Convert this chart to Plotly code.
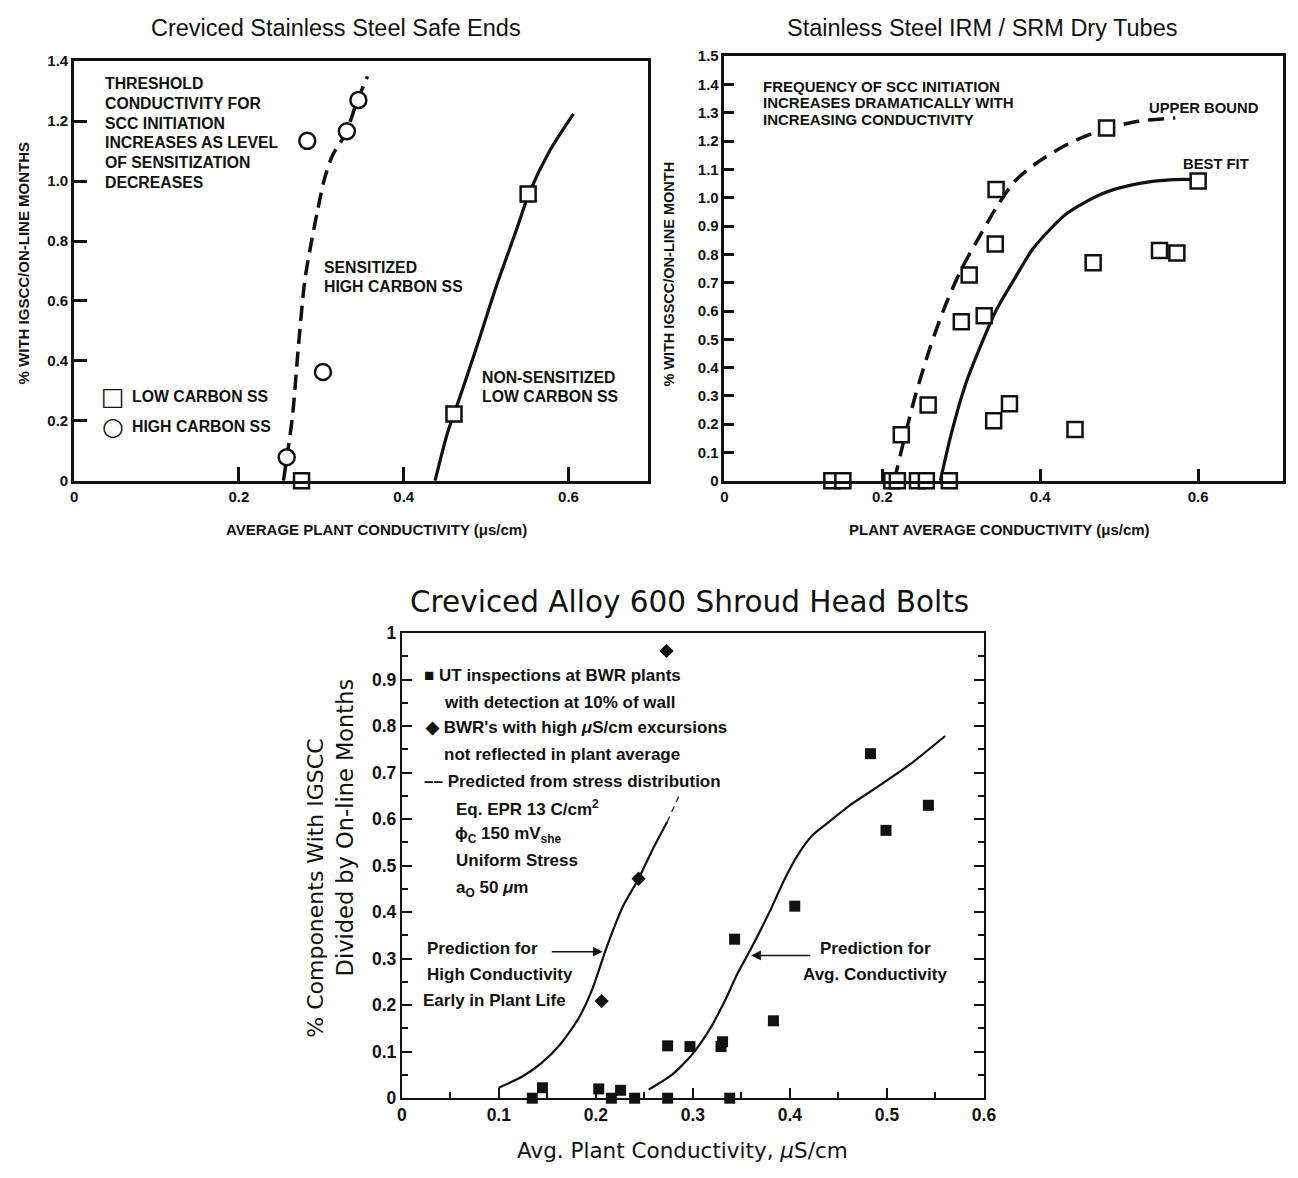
import plotly.graph_objects as go

W, H = 1298, 1178

# ---------------- data ----------------
# Panel A: Creviced Stainless Steel Safe Ends
a_low_carbon_x = [0.276, 0.461, 0.551]
a_low_carbon_y = [0.0, 0.223, 0.957]
a_high_carbon_x = [0.258, 0.283, 0.302, 0.331, 0.345]
a_high_carbon_y = [0.079, 1.134, 0.363, 1.166, 1.270]
a_sensitized_x = [0.254, 0.265, 0.272, 0.280, 0.287, 0.295, 0.304, 0.314, 0.329, 0.344, 0.356]
a_sensitized_y = [0.0, 0.215, 0.442, 0.669, 0.782, 0.896, 1.009, 1.088, 1.156, 1.270, 1.349]
a_nonsens_x = [0.438, 0.453, 0.463, 0.488, 0.512, 0.537, 0.552, 0.577, 0.606]
a_nonsens_y = [0.0, 0.159, 0.238, 0.442, 0.646, 0.839, 0.958, 1.100, 1.224]
a_xticks = [0, 0.2, 0.4, 0.6]
a_xticktext = ["0", "0.2", "0.4", "0.6"]
a_yticks = [0, 0.2, 0.4, 0.6, 0.8, 1.0, 1.2, 1.4]
a_yticktext = ["0", "0.2", "0.4", "0.6", "0.8", "1.0", "1.2", "1.4"]

# Panel B: Stainless Steel IRM / SRM Dry Tubes
b_x = [0.136, 0.150, 0.212, 0.219, 0.2445, 0.2557, 0.2848, 0.224, 0.258, 0.300, 0.310,
       0.329, 0.344, 0.343, 0.341, 0.361, 0.444, 0.467, 0.484, 0.551, 0.573, 0.600]
b_y = [0.0, 0.0, 0.0, 0.0, 0.0, 0.0, 0.0, 0.163, 0.268, 0.562, 0.727,
       0.583, 1.029, 0.837, 0.212, 0.272, 0.181, 0.770, 1.246, 0.814, 0.805, 1.059]
b_upper_x = [0.215, 0.229, 0.242, 0.260, 0.278, 0.300, 0.323, 0.345, 0.367, 0.394, 0.435, 0.479, 0.524, 0.571]
b_upper_y = [0.0, 0.163, 0.303, 0.467, 0.607, 0.747, 0.863, 0.968, 1.056, 1.120, 1.190, 1.240, 1.270, 1.282]
b_best_x = [0.2735, 0.287, 0.305, 0.323, 0.345, 0.367, 0.390, 0.412, 0.434, 0.479, 0.524, 0.569, 0.600]
b_best_y = [0.0, 0.163, 0.338, 0.467, 0.607, 0.712, 0.817, 0.887, 0.945, 1.015, 1.050, 1.064, 1.064]
b_xticks = [0, 0.2, 0.4, 0.6]
b_xticktext = ["0", "0.2", "0.4", "0.6"]
b_yticks = [0, 0.1, 0.2, 0.3, 0.4, 0.5, 0.6, 0.7, 0.8, 0.9, 1.0, 1.1, 1.2, 1.3, 1.4, 1.5]
b_yticktext = ["0", "0.1", "0.2", "0.3", "0.4", "0.5", "0.6", "0.7", "0.8", "0.9",
               "1.0", "1.1", "1.2", "1.3", "1.4", "1.5"]

# Panel C: Creviced Alloy 600 Shroud Head Bolts
c_ut_x = [0.1345, 0.145, 0.203, 0.216, 0.2255, 0.240, 0.274, 0.274, 0.297, 0.329, 0.3306,
          0.338, 0.343, 0.383, 0.405, 0.483, 0.499, 0.5427]
c_ut_y = [0.0, 0.0225, 0.020, 0.0, 0.017, 0.0, 0.1126, 0.0, 0.111, 0.111, 0.1215,
          0.0, 0.342, 0.1665, 0.413, 0.741, 0.576, 0.630]
c_bwr_x = [0.2728, 0.244, 0.206]
c_bwr_y = [0.962, 0.472, 0.209]
c_high_x = [0.100, 0.1243, 0.1436, 0.163, 0.182, 0.1966, 0.211, 0.228, 0.244, 0.259, 0.2735]
c_high_y = [0.0225, 0.0467, 0.0748, 0.115, 0.171, 0.2357, 0.324, 0.413, 0.472, 0.537, 0.594]
c_stress_x = [0.2735, 0.2867]
c_stress_y = [0.594, 0.655]
c_avg_x = [0.2545, 0.2786, 0.298, 0.317, 0.3316, 0.346, 0.3605, 0.380, 0.394, 0.4087,
           0.423, 0.4376, 0.4617, 0.4906, 0.524, 0.560]
c_avg_y = [0.0185, 0.0507, 0.091, 0.147, 0.2035, 0.268, 0.324, 0.405, 0.469, 0.525,
           0.565, 0.590, 0.630, 0.670, 0.7184, 0.779]
c_xticks = [0, 0.1, 0.2, 0.3, 0.4, 0.5, 0.6]
c_xticktext = ["0", "0.1", "0.2", "0.3", "0.4", "0.5", "0.6"]
c_yticks = [0, 0.1, 0.2, 0.3, 0.4, 0.5, 0.6, 0.7, 0.8, 0.9, 1.0]
c_yticktext = ["0", "0.1", "0.2", "0.3", "0.4", "0.5", "0.6", "0.7", "0.8", "0.9", "1"]

# ---------------- figure ----------------
SANS = "Liberation Sans, Arial, sans-serif"
DJ = "DejaVu Sans, sans-serif"
BLACK = "#111111"

fig = go.Figure()

# Panel A traces
fig.add_trace(go.Scatter(x=a_sensitized_x, y=a_sensitized_y, xaxis="x", yaxis="y", mode="lines",
                         line=dict(color=BLACK, width=3.5, dash="15px,8px", shape="spline", smoothing=0.8),
                         cliponaxis=False, showlegend=False))
fig.add_trace(go.Scatter(x=a_nonsens_x, y=a_nonsens_y, xaxis="x", yaxis="y", mode="lines",
                         line=dict(color=BLACK, width=3.2, shape="spline", smoothing=0.8),
                         cliponaxis=False, showlegend=False))
fig.add_trace(go.Scatter(x=a_low_carbon_x, y=a_low_carbon_y, xaxis="x", yaxis="y", mode="markers",
                         marker=dict(symbol="square", size=15, color="white", line=dict(color=BLACK, width=2.5)),
                         cliponaxis=False, showlegend=False))
fig.add_trace(go.Scatter(x=a_high_carbon_x, y=a_high_carbon_y, xaxis="x", yaxis="y", mode="markers",
                         marker=dict(symbol="circle", size=16, color="white", line=dict(color=BLACK, width=2.5)),
                         cliponaxis=False, showlegend=False))

# Panel B traces
fig.add_trace(go.Scatter(x=b_upper_x, y=b_upper_y, xaxis="x2", yaxis="y2", mode="lines",
                         line=dict(color=BLACK, width=3.5, dash="16px,9px", shape="spline", smoothing=0.8),
                         cliponaxis=False, showlegend=False))
fig.add_trace(go.Scatter(x=b_best_x, y=b_best_y, xaxis="x2", yaxis="y2", mode="lines",
                         line=dict(color=BLACK, width=3.2, shape="spline", smoothing=0.8),
                         cliponaxis=False, showlegend=False))
fig.add_trace(go.Scatter(x=b_x, y=b_y, xaxis="x2", yaxis="y2", mode="markers",
                         marker=dict(symbol="square", size=15, color="white", line=dict(color=BLACK, width=2.5)),
                         cliponaxis=False, showlegend=False))

# Panel C traces
fig.add_trace(go.Scatter(x=c_high_x, y=c_high_y, xaxis="x3", yaxis="y3", mode="lines",
                         line=dict(color=BLACK, width=2.2, shape="spline", smoothing=0.6),
                         cliponaxis=False, showlegend=False))
fig.add_trace(go.Scatter(x=c_stress_x, y=c_stress_y, xaxis="x3", yaxis="y3", mode="lines",
                         line=dict(color=BLACK, width=1.2, dash="6px,5px"),
                         cliponaxis=False, showlegend=False))
fig.add_trace(go.Scatter(x=c_avg_x, y=c_avg_y, xaxis="x3", yaxis="y3", mode="lines",
                         line=dict(color=BLACK, width=2.2, shape="spline", smoothing=0.6),
                         cliponaxis=False, showlegend=False))
fig.add_trace(go.Scatter(x=c_ut_x, y=c_ut_y, xaxis="x3", yaxis="y3", mode="markers",
                         marker=dict(symbol="square", size=11, color=BLACK, line=dict(width=0)),
                         cliponaxis=False, showlegend=False))
fig.add_trace(go.Scatter(x=c_bwr_x, y=c_bwr_y, xaxis="x3", yaxis="y3", mode="markers",
                         marker=dict(symbol="diamond", size=11, color=BLACK, line=dict(width=0)),
                         cliponaxis=False, showlegend=False))


def dom_x(x0, x1):
    return [x0 / W, x1 / W]


def dom_y(ytop, ybot):
    return [1 - ybot / H, 1 - ytop / H]


def axis(domain, rng, anchor, tickvals, ticktext, lw, tlen, tfont, mirror=True, minor=None):
    d = dict(domain=domain, range=rng, anchor=anchor, showline=True, linecolor=BLACK, linewidth=lw,
             mirror=mirror, ticks="inside", ticklen=tlen, tickwidth=lw, tickcolor=BLACK,
             tickmode="array", tickvals=tickvals, ticktext=ticktext, tickfont=tfont,
             showgrid=False, zeroline=False, fixedrange=True)
    if minor:
        d["minor"] = minor
    return d


top_tick_font = dict(family=SANS, size=15, color=BLACK, weight=700)
bot_tick_font = dict(family=SANS, size=17.5, color=BLACK, weight=700)

layout = dict(
    width=W, height=H, autosize=False,
    margin=dict(l=0, r=0, t=0, b=0),
    paper_bgcolor="white", plot_bgcolor="white",
    showlegend=False,
    xaxis=axis(dom_x(70, 652), [0, 0.697], "y", a_xticks, a_xticktext, 2.8, 14, top_tick_font),
    yaxis=axis(dom_y(52, 479), [0, 1.4], "x", a_yticks, a_yticktext, 2.8, 13, top_tick_font),
    xaxis2=axis(dom_x(729, 1295), [0, 0.7075], "y2", b_xticks, b_xticktext, 2.5, 12, top_tick_font),
    yaxis2=axis(dom_y(47, 479), [0, 1.5], "x2", b_yticks, b_yticktext, 2.5, 10, top_tick_font),
    xaxis3=axis(dom_x(402, 992), [0, 0.6], "y3", c_xticks, c_xticktext, 2, 10, bot_tick_font,
                minor=dict(dtick=0.05, tick0=0, ticks="inside", ticklen=6, tickwidth=1.5,
                           tickcolor=BLACK, showgrid=False)),
    yaxis3=axis(dom_y(634, 1107), [0, 1.0], "x3", c_yticks, c_yticktext, 2, 10, bot_tick_font,
                mirror="ticks",
                minor=dict(dtick=0.05, tick0=0, ticks="inside", ticklen=6, tickwidth=1.5,
                           tickcolor=BLACK, showgrid=False)),
)

ann = []


def text(s, x, y, size, xanchor="left", family=SANS, bold=False, angle=0):
    ann.append(dict(text=s, x=x / W, y=1 - y / H, xref="paper", yref="paper",
                    xanchor=xanchor, yanchor="middle", showarrow=False, textangle=angle,
                    font=dict(family=family, size=size, color=BLACK, weight=700 if bold else 400)))


# Panel A texts
text("Creviced Stainless Steel Safe Ends", 335, 18, 23.5, "center")
for i, s in enumerate(["THRESHOLD", "CONDUCTIVITY FOR", "SCC INITIATION",
                       "INCREASES AS LEVEL", "OF SENSITIZATION", "DECREASES"]):
    text(s, 99, 75 + 20 * i, 15.8, bold=True)
text("SENSITIZED", 321, 262, 15.8, bold=True)
text("HIGH CARBON SS", 321, 281, 15.8, bold=True)
text("NON-SENSITIZED", 481, 374, 15.8, bold=True)
text("LOW CARBON SS", 481, 393, 15.8, bold=True)
text("□", 109, 393, 25, "center", family=DJ)
text("LOW CARBON SS", 127, 393, 15.8, bold=True)
text("○", 109, 424, 25, "center", family=DJ)
text("HIGH CARBON SS", 127, 424, 15.8, bold=True)
text("% WITH IGSCC/ON-LINE MONTHS", 19, 257, 15, "center", bold=True, angle=-90)
text("AVERAGE PLANT CONDUCTIVITY (μs/cm)", 376, 528, 15, "center", bold=True)

# Panel B texts
text("Stainless Steel IRM / SRM Dry Tubes", 990, 18, 23.5, "center")
for i, s in enumerate(["FREQUENCY OF SCC INITIATION", "INCREASES DRAMATICALLY WITH",
                       "INCREASING CONDUCTIVITY"]):
    text(s, 766, 78 + 16.5 * i, 15, bold=True)
text("UPPER BOUND", 1157, 100, 14.8, bold=True)
text("BEST FIT", 1192, 157, 14.8, bold=True)
text("% WITH IGSCC/ON-LINE MONTH", 673, 269, 14.5, "center", bold=True, angle=-90)
text("PLANT AVERAGE CONDUCTIVITY (μs/cm)", 1008, 528, 15, "center", bold=True)

# Panel C texts
text("Creviced Alloy 600 Shroud Head Bolts", 694, 602, 29.5, "center", family=DJ)
text("Avg. Plant Conductivity, <i>μ</i>S/cm", 686, 1160, 21.5, "center", family=DJ)
text("% Components With IGSCC", 315, 893, 22, "center", family=DJ, angle=-90)
text("Divided by On-line Months", 344, 831, 22.5, "center", family=DJ, angle=-90)

LF = 17
text("■ UT inspections at BWR plants", 423, 677, LF, bold=True)
text("with detection at 10% of wall", 443, 704, LF, bold=True)
text("◆ BWR's with high <i>μ</i>S/cm excursions", 424, 730, LF, bold=True)
text("not reflected in plant average", 443, 757, LF, bold=True)
text("–– Predicted from stress distribution", 423, 785, LF, bold=True)
text("Eq. EPR 13 C/cm<sup>2</sup>", 455, 812, LF, bold=True)
text("ϕ<sub>C</sub> 150 mV<sub>she</sub>", 454, 839, LF, bold=True)
text("Uniform Stress", 455, 865, LF, bold=True)
text("a<sub>O</sub> 50 <i>μ</i>m", 455, 894, LF, bold=True)
text("Prediction for", 426, 955, LF, bold=True)
text("High Conductivity", 426, 981, LF, bold=True)
text("Early in Plant Life", 422, 1008, LF, bold=True)
text("Prediction for", 882, 955, LF, "center", bold=True)
text("Avg. Conductivity", 882, 981, LF, "center", bold=True)

# arrows pointing at the prediction curves
ann.append(dict(text="", x=0.207, y=0.315, ax=0.153, ay=0.315, xref="x3", yref="y3",
                axref="x3", ayref="y3", showarrow=True, arrowhead=2, arrowsize=1.3,
                arrowwidth=1.5, arrowcolor=BLACK, standoff=0))
ann.append(dict(text="", x=0.360, y=0.307, ax=0.4225, ay=0.307, xref="x3", yref="y3",
                axref="x3", ayref="y3", showarrow=True, arrowhead=2, arrowsize=1.3,
                arrowwidth=1.5, arrowcolor=BLACK, standoff=0))

layout["annotations"] = ann
fig.update_layout(**layout)

fig.write_html("out.html", post_script="document.body.style.margin='0px';")
